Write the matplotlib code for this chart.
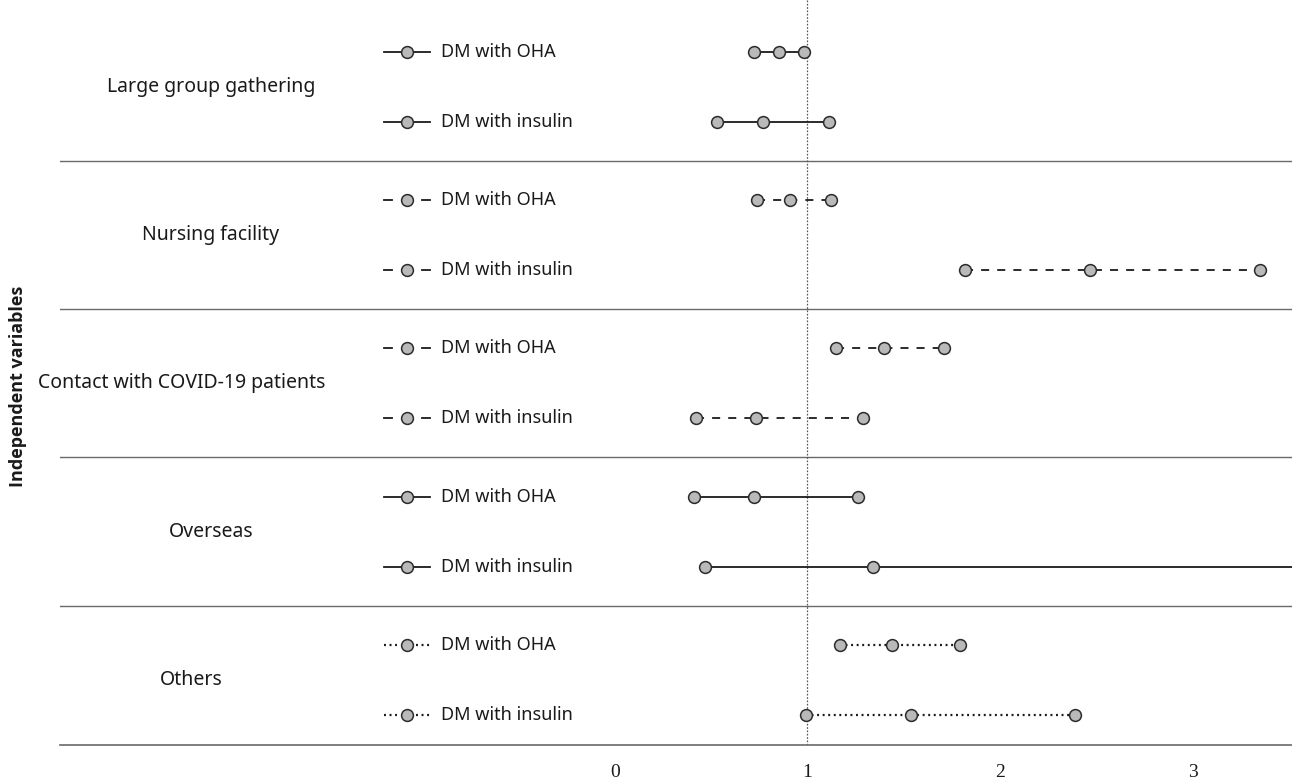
import matplotlib
matplotlib.use("Agg")
import matplotlib.pyplot as plt

plt.rcParams['font.family'] = ['Noto Sans', 'DejaVu Sans']
plt.rcParams['lines.scale_dashes'] = False

# odds ratio with 95% CI
categories = ["Large group gathering", "Nursing facility",
              "Contact with COVID-19 patients", "Overseas", "Others"]
series = ["DM with OHA", "DM with insulin"]

oha_lower = [0.72, 0.74, 1.15, 0.41, 1.17]
oha_or = [0.85, 0.91, 1.40, 0.72, 1.44]
oha_upper = [0.98, 1.12, 1.71, 1.26, 1.79]

ins_lower = [0.53, 1.82, 0.42, 0.47, 0.99]
ins_or = [0.77, 2.47, 0.73, 1.34, 1.54]
ins_upper = [1.11, 3.35, 1.29, 4.90, 2.39]  # overseas upper runs off the axis

xticks = [0, 1, 2, 3]

# layout
styles = ['solid', (0, (5.8, 5.8)), (0, (5.8, 5.8)), 'solid', (0, (1.4, 2.6))]
line_w = [1.3, 1.3, 1.3, 1.3, 1.6]
label_x = [-2.10, -2.10, -2.25, -2.10, -2.20]
row_off = 0.236

fig = plt.figure(figsize=(12.92, 7.84), dpi=100)
ax = fig.add_axes([60 / 1292, 39 / 784, 1 - 60 / 1292, 1 - 39 / 784])
ax.set_xlim(-2.883, 3.517)
ax.set_ylim(4.44, -0.587)

mk = dict(marker='o', markersize=8.5, markerfacecolor='#b9b9b9',
          markeredgecolor='#2b2b2b', markeredgewidth=1.1, linestyle='none', zorder=4)
lc = '#1a1a1a'

rows = [(oha_lower, oha_or, oha_upper), (ins_lower, ins_or, ins_upper)]
for i, cat in enumerate(categories):
    for j, (lo, est, hi) in enumerate(rows):
        y = i + (row_off if j else -row_off)
        ax.plot([lo[i], hi[i]], [y, y], color=lc, lw=line_w[i], linestyle=styles[i], zorder=3)
        ax.plot([lo[i], est[i], hi[i]], [y, y, y], **mk)

        # legend-like sample on the left
        if styles[i] == 'solid':
            ax.plot([-1.20, -0.961], [y, y], color=lc, lw=line_w[i], zorder=3)
        elif i == 4:
            ax.plot([-1.20, -1.13], [y, y], color=lc, lw=line_w[i], linestyle=styles[i], zorder=3)
            ax.plot([-1.035, -0.961], [y, y], color=lc, lw=line_w[i], linestyle=styles[i], zorder=3)
        else:
            ax.plot([-1.20, -1.158], [y, y], color=lc, lw=line_w[i], zorder=3)
            ax.plot([-1.003, -0.961], [y, y], color=lc, lw=line_w[i], zorder=3)
        ax.plot([-1.08], [y], **mk)
        ax.text(-0.904, y, series[j], ha='left', va='center', fontsize=13, color='#1a1a1a')

    ax.text(label_x[i], i, cat, ha='center', va='center', fontsize=14, color='#1a1a1a')
    if i < len(categories) - 1:
        ax.axhline(i + 0.5, color='#6a6a6a', lw=1.0)

ax.axvline(1, color='#555555', lw=0.9, linestyle=(0, (1.2, 1.2)), zorder=2)

for s in ['top', 'right', 'left']:
    ax.spines[s].set_visible(False)
ax.spines['bottom'].set_color('#6a6a6a')
ax.spines['bottom'].set_linewidth(1.2)
ax.set_yticks([])
ax.set_xticks(xticks)
ax.set_xticklabels([str(t) for t in xticks], fontfamily='Liberation Serif', fontsize=14)
ax.tick_params(axis='x', length=0, pad=14, colors='#1a1a1a')

fig.text(18 / 1292, 1 - 386 / 784, "Independent variables", rotation=90,
         ha='center', va='center', fontsize=13, fontweight='bold',
         family=['Open Sans', 'DejaVu Sans'], color='#1a1a1a')

fig.savefig("out.png", dpi=100)
